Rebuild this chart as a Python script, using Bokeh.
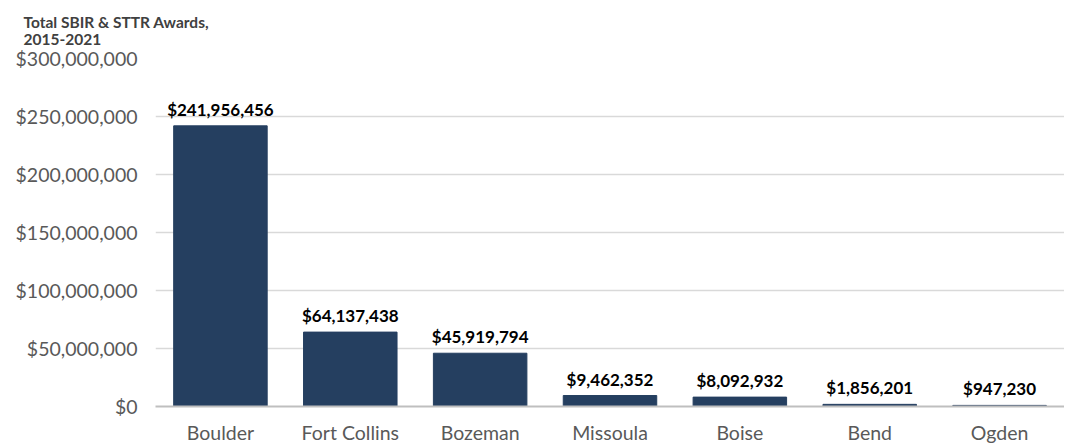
from bokeh.plotting import figure
from bokeh.models import Range1d, NumeralTickFormatter, ColumnDataSource, Title
from bokeh.core.properties import value
from bokeh.embed import file_html
from bokeh.resources import INLINE

cities = ["Boulder", "Fort Collins", "Bozeman", "Missoula", "Boise", "Bend", "Ogden"]
awards = [241956456, 64137438, 45919794, 9462352, 8092932, 1856201, 947230]
y_ticks = [0, 50000000, 100000000, 150000000, 200000000, 250000000, 300000000]
title_text = "Total SBIR & STTR Awards,\n2015-2021"

FONT = "Lato"
labels = ["${:,}".format(v) for v in awards]
src = ColumnDataSource(dict(x=cities, top=awards, label=labels))

p = figure(x_range=cities, width=1064, height=446, output_backend="svg",
           toolbar_location=None, min_border_left=155, min_border_right=0,
           min_border_top=58, min_border_bottom=33)
p.y_range = Range1d(0, 300000000)
p.x_range.range_padding = 0

p.vbar(x="x", top="top", width=0.72, source=src, color="#253F60")
p.text(x="x", y="top", text="label", source=src, text_align="center",
       text_baseline="bottom", y_offset=-6, text_font=value(FONT),
       text_font_style="bold", text_font_size="17px", text_color="#000000")

p.outline_line_color = None
p.xgrid.grid_line_color = None
p.ygrid.grid_line_color = "#D9D9D9"
p.ygrid.grid_line_width = 1.5
p.yaxis.ticker = y_ticks
p.yaxis.formatter = NumeralTickFormatter(format="$0,0")
p.yaxis.axis_line_color = None
p.yaxis.major_tick_line_color = None
p.yaxis.minor_tick_line_color = None
p.yaxis.major_label_text_font = FONT
p.yaxis.major_label_text_font_size = "19.5px"
p.yaxis.major_label_text_color = "#595959"
p.yaxis.major_label_standoff = 12

p.xaxis.axis_line_color = "#BFBFBF"
p.xaxis.axis_line_width = 2
p.xaxis.major_tick_line_color = None
p.xaxis.minor_tick_line_color = None
p.xaxis.major_label_text_font = FONT
p.xaxis.major_label_text_font_size = "19.5px"
p.xaxis.major_label_text_color = "#595959"
p.xaxis.major_label_standoff = 8

t = Title(text=title_text, align="left", offset=-132, text_font=FONT,
          text_font_size="15.5px", text_font_style="bold", text_color="#404040",
          text_line_height=0.95, standoff=18, vertical_align="top")
p.add_layout(t, "above")
p.title = None

open("out.html", "w").write(file_html(p, INLINE))
